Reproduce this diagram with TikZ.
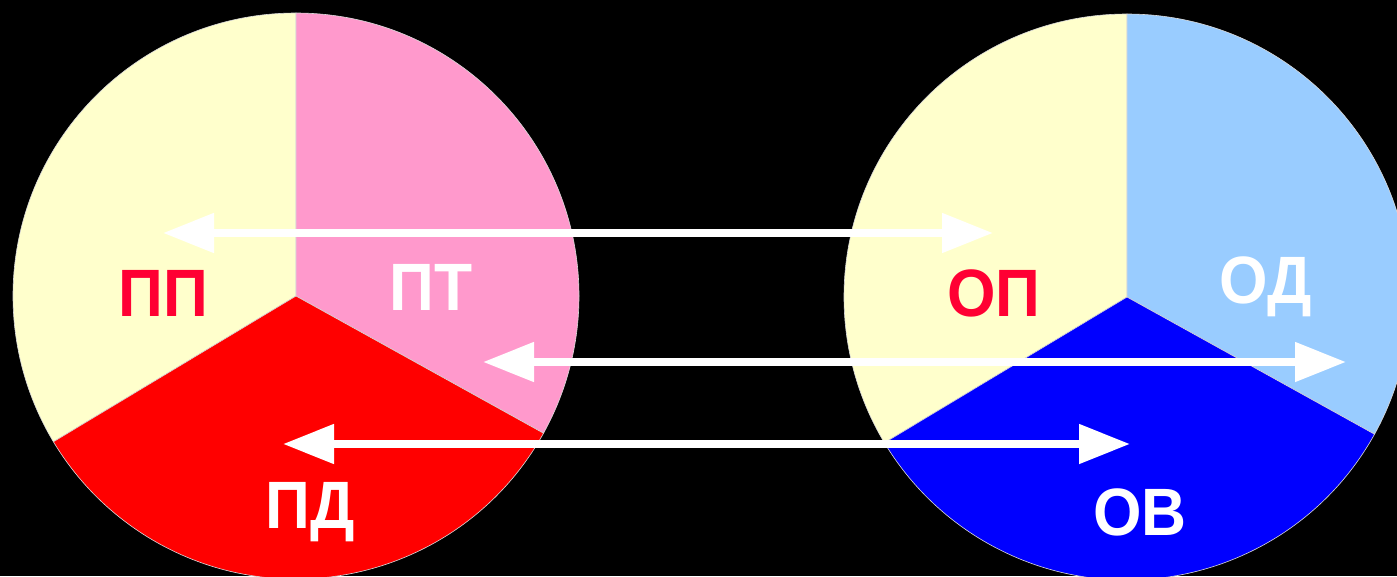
\documentclass[tikz,border=0pt]{standalone}
\usepackage{fontspec}
\setmainfont{Liberation Sans}
\newfontfamily\lblfont[FakeStretch=0.93]{Liberation Sans}
\usetikzlibrary{arrows.meta}
\definecolor{lyellow}{RGB}{255,255,204}
\definecolor{lpink}{RGB}{255,153,204}
\definecolor{sred}{RGB}{255,0,0}
\definecolor{lblue}{RGB}{153,204,255}
\definecolor{sblue}{RGB}{0,0,255}
\definecolor{tred}{RGB}{255,0,51}
\tikzset{
  sector/.style={draw=white!85!black, line width=0.6pt},
  lbl/.style={font=\lblfont\fontsize{67}{67}\selectfont\bfseries, inner sep=0pt, anchor=center},
  dbl/.style={draw=white, line width=8pt, {Triangle[length=51pt,width=38pt]}-{Triangle[length=51pt,width=38pt]}}
}
\begin{document}
\begin{tikzpicture}[x=1pt,y=-1pt]
\useasboundingbox (0,0) rectangle (1397,576);
\fill[black] (0,0) rectangle (1397,576);
\clip (0,0) rectangle (1397,576);
% left circle
\coordinate (L) at (296,296);
\fill[lyellow, sector] (L) -- ++(-90:283) arc[start angle=-90, end angle=-211, radius=283] -- cycle;
\fill[lpink, sector] (L) -- ++(-90:283) arc[start angle=-90, end angle=29, radius=283] -- cycle;
\fill[sred, sector] (L) -- ++(29:283) arc[start angle=29, end angle=149, radius=283] -- cycle;
% right circle
\coordinate (R) at (1127,297);
\fill[lyellow, sector] (R) -- ++(-90:283) arc[start angle=-90, end angle=-211, radius=283] -- cycle;
\fill[lblue, sector] (R) -- ++(-90:283) arc[start angle=-90, end angle=29, radius=283] -- cycle;
\fill[sblue, sector] (R) -- ++(29:283) arc[start angle=29, end angle=149, radius=283] -- cycle;
% labels
\node[lbl, text=tred] (pp) at (163,293) {ПП};
\node[lbl, text=white] (pt) at (431,287) {ПТ};
\node[lbl, text=white] (pd) at (310,512) {ПД};
\node[lbl, text=tred] (op) at (994,293) {ОП};
\node[lbl, text=white] (od) at (1266,287) {ОД};
\node[lbl, text=white] (ov) at (1140,512) {ОВ};
% arrows
\coordinate (a1l) at (163,233);
\coordinate (a1r) at (993,233);
\coordinate (a2l) at (483,362);
\coordinate (a2r) at (1346,362);
\coordinate (a3l) at (283,444);
\coordinate (a3r) at (1130,444);
\draw[dbl] (a1l) -- (a1r);
\draw[dbl] (a2l) -- (a2r);
\draw[dbl] (a3l) -- (a3r);
\end{tikzpicture}
\end{document}
